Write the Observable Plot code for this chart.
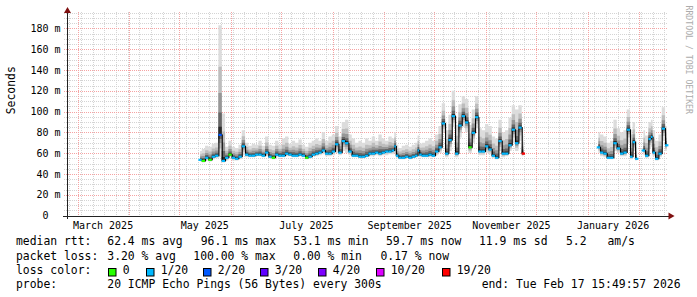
<!DOCTYPE html>
<html>
<head>
<meta charset="utf-8">
<script src="https://cdn.jsdelivr.net/npm/d3@7"></script>
<script src="https://cdn.jsdelivr.net/npm/@observablehq/plot@0.6"></script>
<style>
html, body { margin: 0; padding: 0; background: #fff; }
#chart svg { display: block; }
</style>
</head>
<body>
<div id="chart"></div>
<script>
// ---------------- DATA ----------------
const dates = [
  "2025-05-13","2025-05-15","2025-05-17","2025-05-19","2025-05-21","2025-05-23","2025-05-25","2025-05-27","2025-05-29","2025-05-31",
  "2025-06-02","2025-06-04","2025-06-06","2025-06-08","2025-06-10","2025-06-12","2025-06-14","2025-06-16","2025-06-18","2025-06-20",
  "2025-06-22","2025-06-24","2025-06-26","2025-06-28","2025-06-30","2025-07-02","2025-07-04","2025-07-06","2025-07-08","2025-07-10",
  "2025-07-12","2025-07-14","2025-07-16","2025-07-18","2025-07-20","2025-07-22","2025-07-24","2025-07-26","2025-07-28","2025-07-30",
  "2025-08-01","2025-08-03","2025-08-05","2025-08-07","2025-08-09","2025-08-11","2025-08-13","2025-08-15","2025-08-17","2025-08-19",
  "2025-08-21","2025-08-23","2025-08-25","2025-08-27","2025-08-29","2025-08-31","2025-09-02","2025-09-04","2025-09-06","2025-09-07",
  "2025-09-08","2025-09-10","2025-09-12","2025-09-14","2025-09-16","2025-09-18","2025-09-20","2025-09-21","2025-09-22","2025-09-24",
  "2025-09-26","2025-09-28","2025-09-30","2025-10-02","2025-10-04","2025-10-06","2025-10-08","2025-10-10","2025-10-12","2025-10-14",
  "2025-10-16","2025-10-18","2025-10-20","2025-10-22","2025-10-24","2025-10-26","2025-10-28","2025-10-30","2025-11-01","2025-11-03",
  "2025-11-05","2025-11-07","2025-11-09","2025-11-11","2025-11-13","2025-11-15","2025-11-17","2025-11-19","2025-11-21","2025-11-23",
  "2025-12-15",
  "2026-01-07","2026-01-09","2026-01-11","2026-01-13","2026-01-15","2026-01-17","2026-01-19","2026-01-21","2026-01-23","2026-01-25","2026-01-27","2026-01-28","2026-01-30",
  "2026-02-01",
  "2026-02-03","2026-02-05","2026-02-07","2026-02-08","2026-02-09","2026-02-11","2026-02-13","2026-02-15","2026-02-17"
];
// median rtt (ms)
const median = [
  54,53,56,54,57,58,78,53,56,59,
  56,55,57,67,59,58,58,59,59,58,
  61,57,56,59,58,58,60,59,58,58,
  59,58,56,57,59,60,61,63,60,60,
  62,69,61,72,70,62,58,58,57,57,
  58,60,60,61,60,61,62,62,63,67,
  58,56,56,57,56,57,58,63,59,58,
  58,59,58,62,66,89,60,73,96,60,
  87,96,90,66,80,95,62,62,67,64,
  58,56,72,60,60,68,83,70,85,60,
  null,
  66,61,60,56,56,70,65,60,61,83,57,71,55,
  null,
  63,58,74,76,61,55,60,84,68
];
// highest ping (ms) - top of the smoke
const maxPing = [
  62,64,67,66,69,70,183,98,66,72,
  66,65,68,82,70,67,69,68,72,67,
  76,68,67,72,68,74,76,69,72,70,
  73,68,66,70,72,74,72,80,72,76,
  78,86,76,90,92,78,74,70,72,70,
  74,72,76,72,78,74,72,76,74,80,
  68,65,67,68,66,68,70,77,69,70,
  72,74,72,78,86,108,82,97,120,87,
  107,115,112,87,102,115,84,82,88,86,
  76,74,92,80,82,94,106,102,106,77,
  null,
  80,78,76,70,72,92,84,80,82,102,78,90,72,
  null,
  82,77,90,92,82,72,78,104,86
];
// lowest ping (ms) - bottom of the smoke
const minPing = [
  52,51,53,52,54,55,56,51,53,56,
  53,53,54,58,56,56,56,57,57,56,
  57,55,54,56,56,56,57,57,56,56,
  57,56,54,55,57,57,58,59,57,57,
  58,60,58,62,60,58,56,56,55,55,
  56,57,57,58,57,58,58,59,59,60,
  55,54,54,55,54,55,56,58,56,56,
  56,56,56,58,60,80,56,62,85,56,
  75,85,80,60,70,84,58,58,60,59,
  55,54,62,56,57,62,70,62,72,57,
  null,
  60,57,56,54,54,62,60,57,57,70,54,62,53,
  null,
  58,55,64,66,57,53,56,72,62
];
// packet loss level of each sample
const loss = [
  "1/20","0","1/20","0","1/20","1/20","2/20","1/20","1/20","0",
  "1/20","1/20","1/20","1/20","1/20","1/20","1/20","1/20","1/20","1/20",
  "1/20","1/20","0","1/20","1/20","1/20","1/20","1/20","1/20","1/20",
  "1/20","1/20","0","1/20","1/20","1/20","1/20","1/20","1/20","1/20",
  "1/20","1/20","1/20","1/20","1/20","1/20","1/20","1/20","1/20","1/20",
  "1/20","1/20","1/20","1/20","1/20","1/20","1/20","1/20","1/20","1/20",
  "1/20","1/20","1/20","1/20","1/20","1/20","1/20","1/20","1/20","1/20",
  "1/20","1/20","1/20","1/20","1/20","1/20","1/20","1/20","1/20","1/20",
  "1/20","1/20","1/20","0","1/20","1/20","1/20","1/20","1/20","1/20",
  "1/20","1/20","1/20","1/20","1/20","1/20","1/20","1/20","1/20","19/20",
  null,
  "1/20","1/20","1/20","1/20","1/20","1/20","1/20","1/20","1/20","1/20","1/20","1/20","1/20",
  null,
  "1/20","1/20","1/20","1/20","1/20","1/20","1/20","1/20","1/20"
];
const lossLevels = ["0","1/20","2/20","3/20","4/20","10/20","19/20"];
const lossColors = ["#26ff00","#00b8ff","#0059ff","#5e00ff","#7e00ff","#dd00ff","#ff0000"];

const rangeStart = "2025-02-22T15:49:57Z";
const rangeEnd = "2026-02-17T15:49:57Z";

const yTickValues = [0,20,40,60,80,100,120,140,160,180];
const yTickLabels = ["0\u00a0\u00a0","20 m","40 m","60 m","80 m","100 m","120 m","140 m","160 m","180 m"];
const xLabelDates = ["2025-03-16","2025-05-16","2025-07-16","2025-09-16","2025-11-16","2026-01-16"];
const xLabelTexts = ["March 2025","May 2025","July 2025","September 2025","November 2025","January 2026"];

const rttTitle = "median rtt:";
const rttStats = ["62.4 ms avg","96.1 ms max","53.1 ms min","59.7 ms now","11.9 ms sd","5.2","am/s"];
const lossTitle = "packet loss:";
const lossStats = ["3.20 % avg","100.00 % max","0.00 % min","0.17 % now"];
const colorTitle = "loss color:";
const probeTitle = "probe:";
const probeText = "20 ICMP Echo Pings (56 Bytes) every 300s";
const endText = "end: Tue Feb 17 15:49:57 2026";
const yTitle = "Seconds";
const watermark = "RRDTOOL / TOBI OETIKER";

// ---------------- BUILD ----------------
const DAY = 86400000;
const data = dates.map((d, i) => ({
  date: new Date(d + "T12:00:00Z"),
  med: median[i], hi: maxPing[i], lo: minPing[i], loss: loss[i]
}));
// horizontal extent of each sample (half way to its neighbours)
data.forEach((d, i) => {
  const p = data[i - 1], n = data[i + 1];
  d.x1 = p && p.med != null ? new Date((+p.date + +d.date) / 2) : new Date(+d.date - DAY);
  d.x2 = n && n.med != null ? new Date((+n.date + +d.date) / 2) : new Date(+d.date + DAY);
});
const pts = data.filter(d => d.med != null);
const colorOf = l => lossColors[lossLevels.indexOf(l)];

const t0 = new Date(rangeStart), t1 = new Date(rangeEnd);
const weeks = d3.utcMonday.range(t0, t1);
const months = d3.utcMonth.range(t0, t1);
const minorY = d3.range(5, 196, 5).filter(v => v % 20 !== 0);
const majorY = yTickValues.filter(v => v > 0);

// smoke shading layers (outer light -> inner dark)
const smokeLayers = [
  {f: 1.0, c: "#dcdcdc"},
  {f: 0.62, c: "#bdbdbd"},
  {f: 0.38, c: "#979797"},
  {f: 0.2, c: "#666666"},
  {f: 0.07, c: "#2a2a2a"}
];
const band = (f, c) => Plot.areaY(data, {
  x: "date",
  y1: d => d.med == null ? undefined : d.med - (d.med - d.lo) * f,
  y2: d => d.med == null ? undefined : d.med + (d.hi - d.med) * f,
  fill: c, curve: "step"
});

const gridMinor = {stroke: "#d4d4d4", strokeDasharray: "1,1", shapeRendering: "crispEdges"};
const gridMajor = {stroke: "#f5a3a3", strokeDasharray: "1,1", shapeRendering: "crispEdges"};

const plot = Plot.plot({
  width: 697, height: 232,
  marginLeft: 67, marginRight: 30, marginTop: 12, marginBottom: 16.5,
  x: {type: "utc", domain: [t0, t1], axis: null},
  y: {domain: [0, 195.7], axis: null},
  style: {fontFamily: "DejaVu Sans Mono", background: "#fff", color: "#000", overflow: "visible"},
  marks: [
    Plot.ruleY(minorY, {y: d => d, insetLeft: -3, ...gridMinor}),
    Plot.ruleX(weeks, {x: d => d, insetBottom: -2, ...gridMinor}),
    Plot.ruleY(majorY, {y: d => d, insetLeft: -3, ...gridMajor}),
    Plot.ruleX(months, {x: d => d, insetBottom: -2, ...gridMajor}),
    ...smokeLayers.map(s => band(s.f, s.c)),
    Plot.line(data, {x: "date", y: "med", stroke: "#000", strokeWidth: 1.1, curve: "step"}),
    Plot.ruleY(pts, {y: "med", x1: "x1", x2: "x2", stroke: d => colorOf(d.loss), strokeWidth: 2.2}),
    // axes
    Plot.ruleY([0], {stroke: "#222", insetLeft: -4, insetRight: -5, shapeRendering: "crispEdges"}),
    Plot.ruleX([t0], {stroke: "#222", insetBottom: -3, insetTop: -3, shapeRendering: "crispEdges"}),
    Plot.dot([t1], {x: d => d, y: 0, symbol: "triangle", rotate: 90, r: 2.6, dx: 3, fill: "#7f1010", stroke: "none"}),
    Plot.dot([t0], {x: d => d, y: 195.7, symbol: "triangle", r: 2.6, dy: -1.5, fill: "#7f1010", stroke: "none"}),
    // tick labels
    Plot.text(yTickValues, {y: d => d, text: (d, i) => yTickLabels[i], frameAnchor: "left", dx: -7,
      textAnchor: "end", lineAnchor: "middle", fontSize: 10, fill: "#000"}),
    Plot.text(xLabelDates, {x: d => new Date(d + "T00:00:00Z"), text: (d, i) => xLabelTexts[i],
      frameAnchor: "bottom", lineAnchor: "bottom", dy: 12.5, fontSize: 10, fill: "#000"}),
    Plot.text([yTitle], {frameAnchor: "left", dx: -56, rotate: -90, fontSize: 11.4, fill: "#000"}),
    Plot.text([watermark], {frameAnchor: "top-right", dx: 21, dy: -7, rotate: 90, textAnchor: "start",
      lineAnchor: "middle", fontSize: 8.2, fill: "#acacac"})
  ]
});
document.getElementById("chart").appendChild(plot);

// ---------------- LEGEND (below the plot) ----------------
const leg = d3.create("svg").attr("width", 697).attr("height", 65)
  .style("display", "block")
  .attr("font-family", "DejaVu Sans Mono").attr("font-size", 11.4).attr("fill", "#000");
const rowY = [13.3, 27.6, 41.6, 55.6];
const put = (x, y, s, anchor = "start") =>
  leg.append("text").attr("x", x).attr("y", y).attr("text-anchor", anchor).text(s);

put(16, rowY[0], rttTitle);
[107.3, 200.7, 293.3, 386, 479, 566, 607.5].forEach((x, i) => put(x, rowY[0], rttStats[i]));
put(16, rowY[1], lossTitle);
[107.3, 193.3, 293.3, 380.5].forEach((x, i) => put(x, rowY[1], lossStats[i]));
put(16, rowY[2], colorTitle);
[108, 146, 203, 260, 318, 376, 442].forEach((x, i) => {
  leg.append("rect").attr("x", x + 0.5).attr("y", 36.5).attr("width", 7.5).attr("height", 7.5)
    .attr("fill", lossColors[i]).attr("stroke", "#000").attr("stroke-width", 1);
  put(x + 14.7, rowY[2], lossLevels[i]);
});
put(16, rowY[3], probeTitle);
put(107.3, rowY[3], probeText);
put(680.5, rowY[3], endText, "end");
document.getElementById("chart").appendChild(leg.node());
</script>
</body>
</html>
